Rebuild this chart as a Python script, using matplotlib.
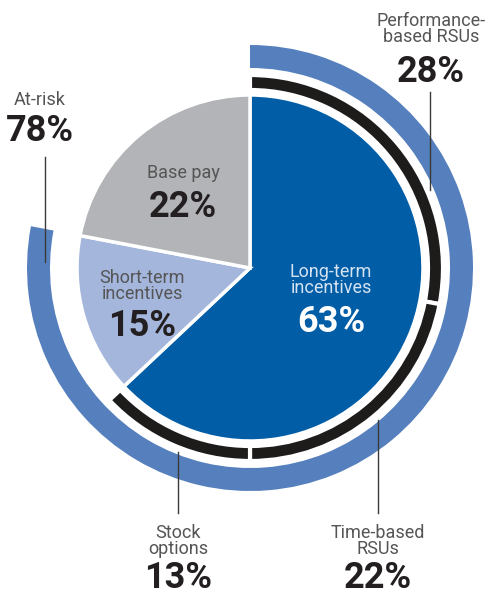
import matplotlib.pyplot as plt

# pay mix (share of total pay, %)
mix_labels = ['Long-term\nincentives', 'Short-term\nincentives', 'Base pay']
mix_values = [63, 15, 22]
mix_colors = ['#005DA6', '#A4B6DC', '#B3B4B7']

# long-term incentive breakdown
lti_labels = ['Performance-\nbased RSUs', 'Time-based\nRSUs', 'Stock\noptions']
lti_values = [28, 22, 13]

# at-risk share
atrisk_label = 'At-risk'
atrisk_value = 78

plt.rcParams['font.family'] = ['Roboto', 'DejaVu Sans']
fig = plt.figure(figsize=(4.9, 5.97), dpi=100)
ax = fig.add_axes([0, 0, 1, 1])

# inner pie
w, _ = ax.pie(mix_values, colors=mix_colors, startangle=90, counterclock=False,
              radius=173, wedgeprops=dict(edgecolor='white', linewidth=2.5))

# black ring for LTI parts
rest = 100 - sum(lti_values)
w2, _ = ax.pie(lti_values + [rest], colors=['#1E1B1B'] * 3 + ['white'],
               startangle=90, counterclock=False, radius=193,
               wedgeprops=dict(width=15, edgecolor='white', linewidth=3))
w2[-1].set_visible(False)

# outer at-risk ring
w3, _ = ax.pie([atrisk_value, 100 - atrisk_value], colors=['#5580BD', 'white'],
               startangle=90, counterclock=False, radius=223,
               wedgeprops=dict(width=23, edgecolor='none'))
w3[-1].set_visible(False)

ax.set_xlim(-250, 240)
ax.set_ylim(-329, 268)
ax.axis('off')

lab_c = '#555555'
pct_c = '#231F20'


def P(x, y):
    # image pixel coords -> data coords
    return x - 250, 268 - y


def label(x, y, name, val, pct_y, nc=lab_c, pc=pct_c, ns=13, ps=26, pva='center'):
    ax.text(*P(x, y), name, ha='center', va='center', color=nc, fontsize=ns,
            linespacing=0.92)
    ax.text(*P(x, pct_y), f'{val}%', ha='center', va=pva, color=pc,
            fontsize=ps, fontweight='bold')


def leader(x, y0, y1):
    ax.plot(*zip(P(x, y0), P(x, y1)), color='#3a3a3a', lw=1)


label(431, 29, lti_labels[0], lti_values[0], 72)
leader(430, 92, 190)

label(40, 100, atrisk_label, atrisk_value, 131)
leader(45, 157, 262)

label(183, 173, mix_labels[2], mix_values[2], 207)
label(142, 286, mix_labels[1], mix_values[1], 326)
label(331, 280, mix_labels[0], mix_values[0], 322, nc='#D5E3F2', pc='white')

# bottom labels: percentages hug the lower edge
label(178, 541, lti_labels[2], lti_values[2], 596, pva='bottom')
leader(178, 452, 513)

label(378, 541, lti_labels[1], lti_values[1], 596, pva='bottom')
leader(378, 420, 513)

fig.savefig('out.png', dpi=100)
